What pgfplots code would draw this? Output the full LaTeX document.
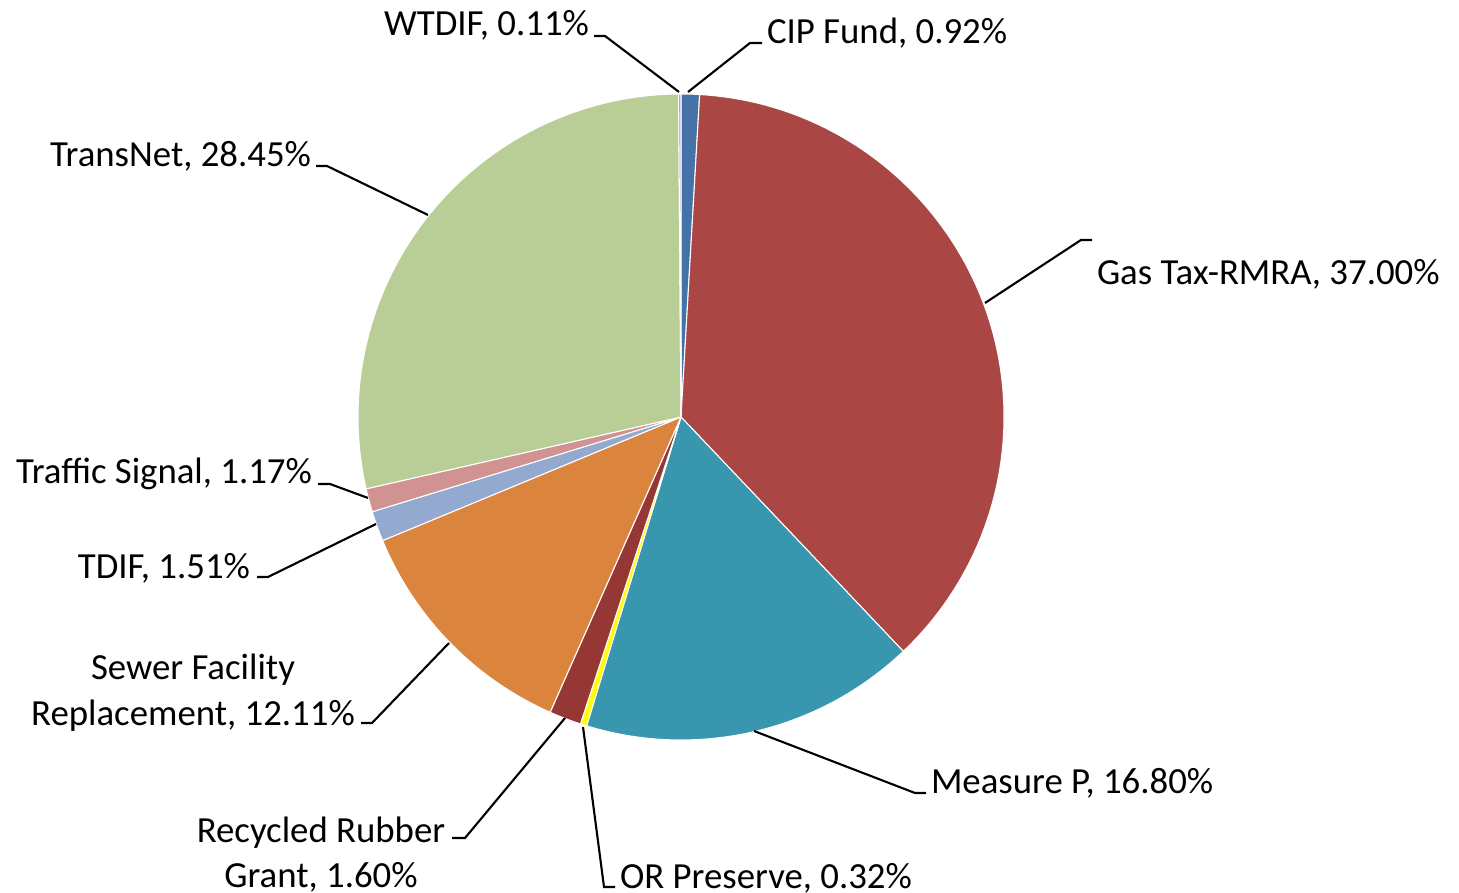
\documentclass[border=0pt]{standalone}
\usepackage{pgfplots}
\usepackage{pgfplotstable}
\pgfplotsset{compat=1.18}
\usepackage{fontspec}
\setmainfont{Carlito}
\definecolor{cCIP}{HTML}{4572A7}
\definecolor{cGas}{HTML}{AA4643}
\definecolor{cMeas}{HTML}{3896AE}
\definecolor{cOR}{HTML}{FFFF00}
\definecolor{cRub}{HTML}{953735}
\definecolor{cSew}{HTML}{DB843D}
\definecolor{cTDIF}{HTML}{93A9CF}
\definecolor{cTraf}{HTML}{D19392}
\definecolor{cTrans}{HTML}{B9CD96}
\definecolor{cWT}{HTML}{A99BBD}
\tikzset{lbl/.style={font=\fontsize{10.47}{12.8}\selectfont, inner sep=0pt, outer sep=0pt, text=black}}
\pgfplotstableread[col sep=comma]{
name,value,color
CIP Fund,0.92,cCIP
Gas Tax-RMRA,37.00,cGas
Measure P,16.80,cMeas
OR Preserve,0.32,cOR
Recycled Rubber Grant,1.60,cRub
Sewer Facility Replacement,12.11,cSew
TDIF,1.51,cTDIF
Traffic Signal,1.17,cTraf
TransNet,28.45,cTrans
WTDIF,0.11,cWT
}\piedata
\begin{document}
\begin{tikzpicture}
\useasboundingbox (0,0) rectangle (14.59cm,8.93cm);
\begin{axis}[scale only axis, width=14.59cm, height=8.93cm,
  xmin=0, xmax=1459, ymin=0, ymax=893, y dir=reverse,
  hide axis, clip=false]
\pgfplotstablegetrowsof{\piedata}
\pgfmathtruncatemacro{\nrows}{\pgfplotsretval-1}
\gdef\cum{0}
\pgfplotsforeachungrouped \i in {0,...,\nrows}{%
  \pgfplotstablegetelem{\i}{value}\of\piedata \let\val\pgfplotsretval
  \pgfplotstablegetelem{\i}{color}\of\piedata \let\col\pgfplotsretval
  \pgfmathsetmacro{\sa}{90-3.6*\cum}%
  \pgfmathsetmacro{\ea}{90-3.6*(\cum+\val)}%
  \edef\temp{\noexpand\fill[fill=\col, draw=white, line width=0.3pt, line join=round] (axis cs:681,417) -- ++(\sa:3.23cm) arc[start angle=\sa, end angle=\ea, radius=3.23cm] -- cycle;}%
  \temp
  \pgfmathsetmacro{\newcum}{\cum+\val}%
  \global\let\cum\newcum
}
% leader lines
\draw[line width=0.6pt] (axis cs:594,36) -- (axis cs:605,36) -- (axis cs:679,92);
\draw[line width=0.6pt] (axis cs:688,92) -- (axis cs:750,43) -- (axis cs:762,43);
\draw[line width=0.6pt] (axis cs:985,303) -- (axis cs:1081,240) -- (axis cs:1092,240);
\draw[line width=0.6pt] (axis cs:754,731) -- (axis cs:915,793) -- (axis cs:926,793);
\draw[line width=0.6pt] (axis cs:583,727) -- (axis cs:604,887) -- (axis cs:615,887);
\draw[line width=0.6pt] (axis cs:565,718) -- (axis cs:465,838) -- (axis cs:452,838);
\draw[line width=0.6pt] (axis cs:449,643) -- (axis cs:372,723) -- (axis cs:361,723);
\draw[line width=0.6pt] (axis cs:376,524) -- (axis cs:268,577) -- (axis cs:257,577);
\draw[line width=0.6pt] (axis cs:368,498) -- (axis cs:330,484) -- (axis cs:318,484);
\draw[line width=0.6pt] (axis cs:428,215) -- (axis cs:327,166) -- (axis cs:316,166);
% labels
\node[lbl, anchor=base east] at (axis cs:589,36) {WTDIF, 0.11\%};
\node[lbl, anchor=base west] at (axis cs:767,44) {CIP Fund, 0.92\%};
\node[lbl, anchor=base west] at (axis cs:1097,285) {Gas Tax-RMRA, 37.00\%};
\node[lbl, anchor=base west] at (axis cs:931,793) {Measure P, 16.80\%};
\node[lbl, anchor=base west] at (axis cs:620,888) {OR Preserve, 0.32\%};
\node[lbl, anchor=base] at (axis cs:321,842) {Recycled Rubber};
\node[lbl, anchor=base] at (axis cs:321,887) {Grant, 1.60\%};
\node[lbl, anchor=base] at (axis cs:193,680) {Sewer Facility};
\node[lbl, anchor=base] at (axis cs:193,725) {Replacement, 12.11\%};
\node[lbl, anchor=base east] at (axis cs:250,579) {TDIF, 1.51\%};
\node[lbl, anchor=base east] at (axis cs:312,484) {Traffic Signal, 1.17\%};
\node[lbl, anchor=base east] at (axis cs:311,167) {TransNet, 28.45\%};
\end{axis}
\end{tikzpicture}
\end{document}
